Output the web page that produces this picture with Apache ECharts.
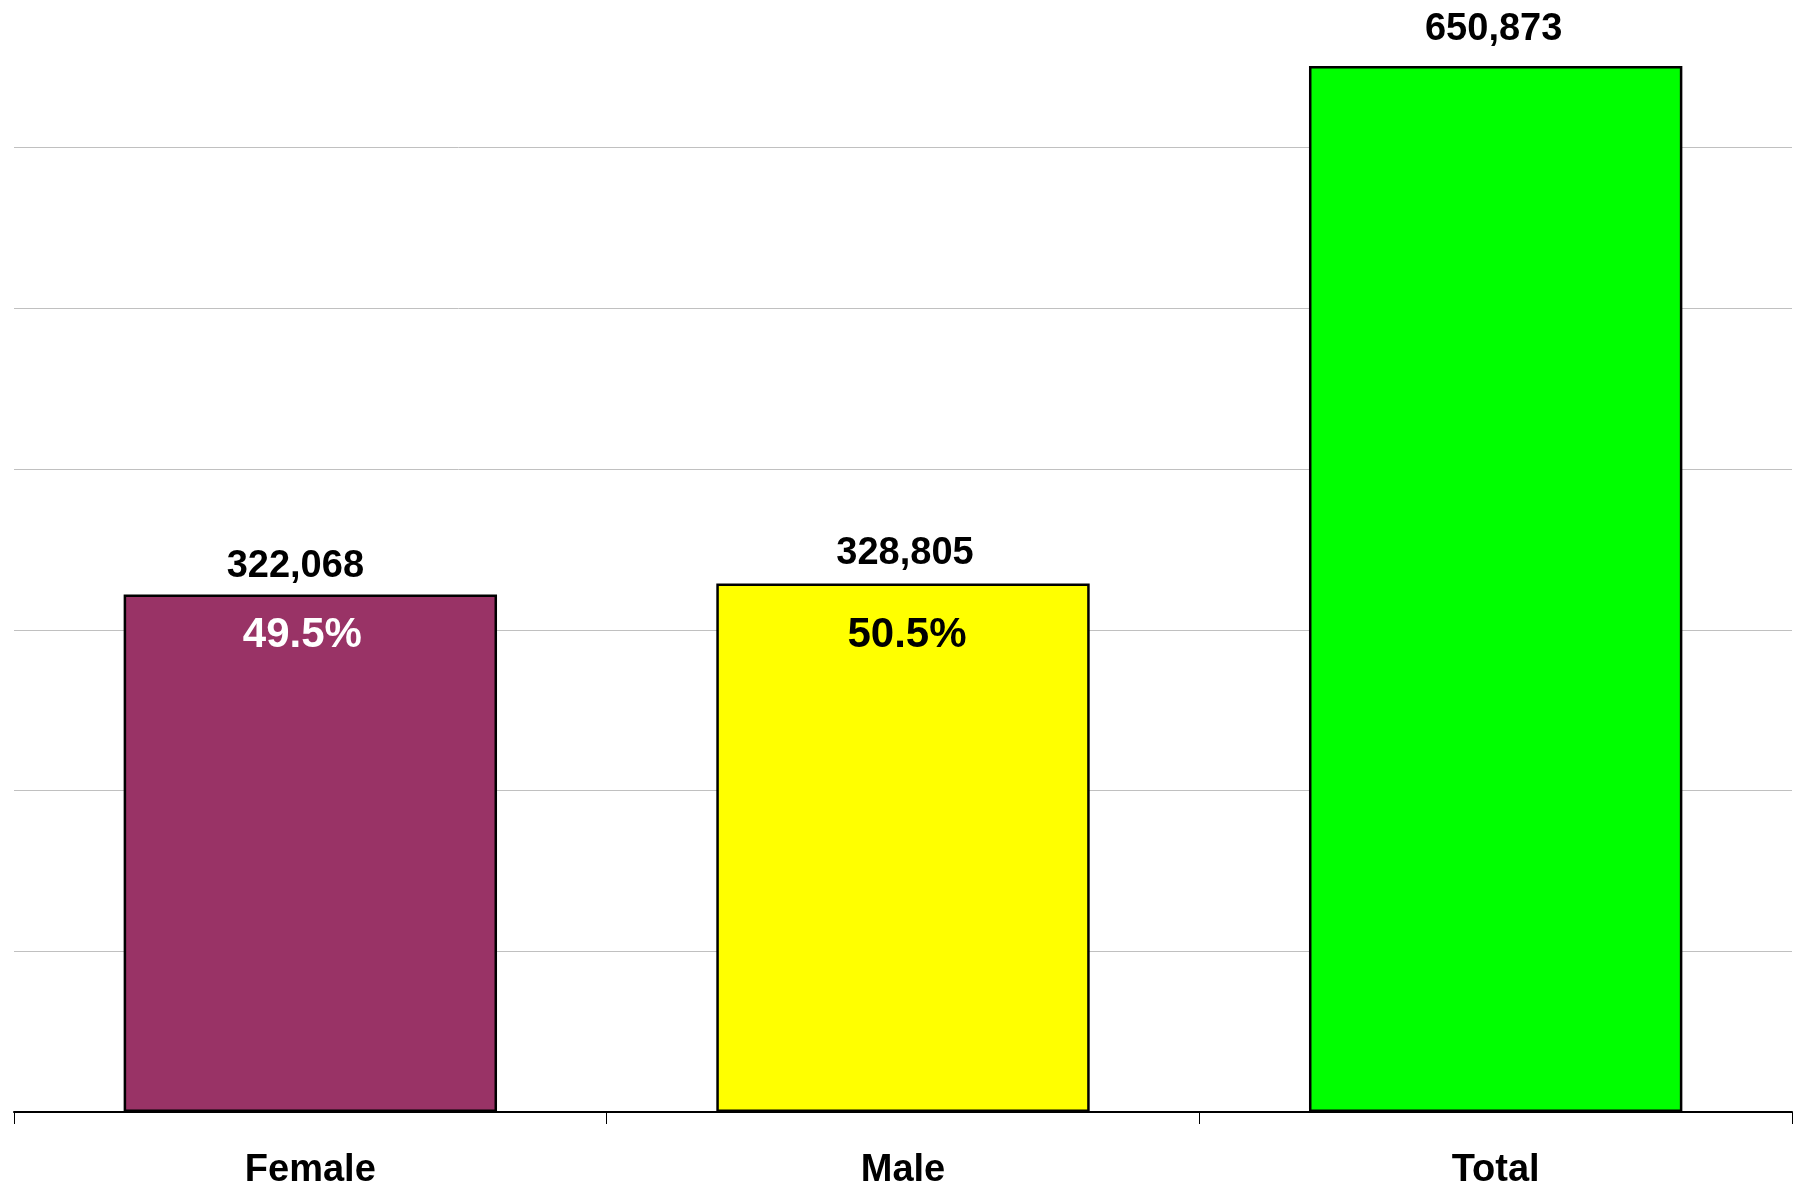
<!DOCTYPE html>
<html>
<head>
<meta charset="utf-8">
<script src="https://cdn.jsdelivr.net/npm/echarts@6/dist/echarts.min.js"></script>
<style>
html,body{margin:0;padding:0;background:#fff;}
#chart{width:1801px;height:1188px;}
</style>
</head>
<body>
<div id="chart"></div>
<script>
const categories = ['Female', 'Male', 'Total'];
const values = [322068, 328805, 650873];
const barColors = ['#993366', '#FFFF00', '#00FF00'];
const pctLabels = ['49.5%', '50.5%', ''];
const pctColors = ['#FFFFFF', '#000000', '#000000'];

// label placement tweaks (style only)
const valueLabelDist = [9, 11, 17];
const valueLabelDx = [-15, 2, -2];
const pctLabelDist = [20, 31, 20];
const pctLabelDx = [-8, 4, 0];

const chart = echarts.init(document.getElementById('chart'));
const fmt = v => v.toString().replace(/\B(?=(\d{3})+(?!\d))/g, ',');
const font = '"Liberation Sans", Arial, sans-serif';

chart.setOption({
  animation: false,
  backgroundColor: '#ffffff',
  grid: { left: 14, right: 9, top: -13, bottom: 76, containLabel: false, outerBoundsMode: 'none' },
  xAxis: {
    type: 'category',
    data: categories,
    axisLine: { show: true, lineStyle: { color: '#000', width: 2 } },
    axisTick: { show: true, length: 12, lineStyle: { color: '#000', width: 1 } },
    axisLabel: { color: '#000', fontFamily: font, fontWeight: 'bold', fontSize: 38, margin: 40 },
    splitLine: { show: false }
  },
  yAxis: {
    type: 'value',
    min: 0,
    max: 700000,
    interval: 100000,
    axisLine: { show: false },
    axisTick: { show: false },
    axisLabel: { show: false },
    splitLine: { show: true, lineStyle: { color: '#C0C0C0', width: 1 } }
  },
  series: [
    {
      type: 'bar',
      barWidth: '63%',
      data: values.map((v, i) => ({
        value: v,
        itemStyle: { color: barColors[i], borderColor: '#000', borderWidth: 2.5 },
        label: { distance: valueLabelDist[i], offset: [valueLabelDx[i], 0] }
      })),
      label: {
        show: true,
        position: 'top',
        color: '#000',
        fontFamily: font,
        fontWeight: 'bold',
        fontSize: 38,
        formatter: p => fmt(p.value)
      },
      z: 2
    },
    {
      type: 'bar',
      barWidth: '63%',
      barGap: '-100%',
      silent: true,
      data: values.map((v, i) => ({
        value: v,
        itemStyle: { color: 'rgba(0,0,0,0)' },
        label: { color: pctColors[i], distance: pctLabelDist[i], offset: [pctLabelDx[i], 0] }
      })),
      label: {
        show: true,
        position: 'insideTop',
        fontFamily: font,
        fontWeight: 'bold',
        fontSize: 42,
        formatter: p => pctLabels[p.dataIndex]
      },
      z: 3
    }
  ]
});
</script>
</body>
</html>
